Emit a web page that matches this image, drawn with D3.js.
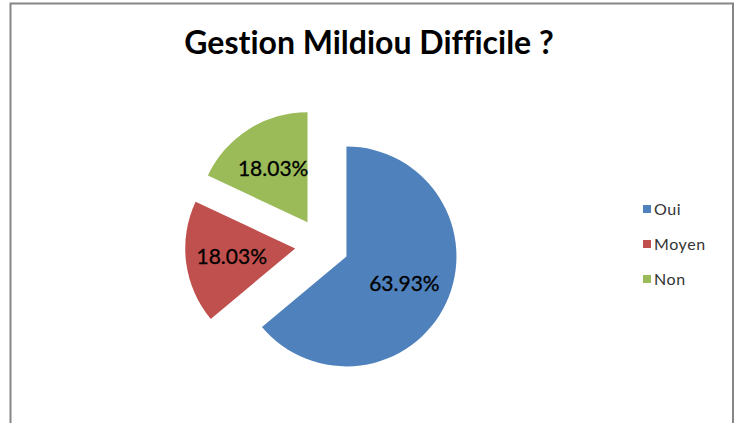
<!DOCTYPE html>
<html>
<head>
<meta charset="utf-8">
<script src="https://cdn.jsdelivr.net/npm/d3@7"></script>
<style>
  body { margin: 0; background: #fff; }
  svg { display: block; }
  text { font-variant-ligatures: none; }
</style>
</head>
<body>
<div id="chart"></div>
<script>
// chart data
var categories = ["Oui", "Moyen", "Non"];
var values = [63.93, 18.03, 18.03];
var colors = ["#4F81BD", "#C0504D", "#9BBB59"];

var w = 741;
var h = 423;
var cx = 322, cy = 245;
var radius = 110;
var explode = 27;

var svg = d3.select("#chart")
  .append("svg")
  .attr("width", w)
  .attr("height", h);

// outer frame (bottom edge is off the picture)
svg.append("path")
  .attr("d", "M10.5,430 V3.5 H733 V430")
  .attr("fill", "none")
  .attr("stroke", "#868686")
  .attr("stroke-width", 2);

svg.append("text")
  .attr("x", 369)
  .attr("y", 54)
  .attr("text-anchor", "middle")
  .style("font-family", "Lato, sans-serif")
  .style("font-weight", "bold")
  .style("font-size", "32px")
  .attr("fill", "#000")
  .text("Gestion Mildiou Difficile ?");

var pie = d3.pie().sort(null).value(function(d) { return d; });
var arcs = pie(values);

var arc = d3.arc().innerRadius(0).outerRadius(radius);
var labelArc = d3.arc().innerRadius(64).outerRadius(64);

var slices = svg.selectAll("g.slice")
  .data(arcs)
  .enter()
  .append("g")
  .attr("class", "slice")
  .attr("transform", function(d) {
    var a = (d.startAngle + d.endAngle) / 2;
    return "translate(" + (cx + explode * Math.sin(a)) + "," + (cy - explode * Math.cos(a)) + ")";
  });

slices.append("path")
  .attr("d", arc)
  .attr("fill", function(d, i) { return colors[i]; });

slices.append("text")
  .attr("transform", function(d) { return "translate(" + labelArc.centroid(d) + ")"; })
  .attr("text-anchor", "middle")
  .attr("dy", "0.36em")
  .style("font-family", "Lato, sans-serif")
  .style("font-size", "21px")
  .style("stroke", "#000")
  .style("stroke-width", 0.3)
  .attr("fill", "#000")
  .text(function(d) { return d.value.toFixed(2) + "%"; });

// legend
var legend = svg.selectAll("g.legend")
  .data(categories)
  .enter()
  .append("g")
  .attr("class", "legend")
  .attr("transform", function(d, i) { return "translate(643," + (205 + i * 35) + ")"; });

legend.append("rect")
  .attr("width", 8)
  .attr("height", 8)
  .attr("fill", function(d, i) { return colors[i]; });

legend.append("text")
  .attr("x", 11)
  .attr("y", 10)
  .style("font-family", "Lato, sans-serif")
  .style("font-size", "16px")
  .style("letter-spacing", "0.6px")
  .attr("fill", "#333")
  .text(function(d) { return d; });
</script>
</body>
</html>
